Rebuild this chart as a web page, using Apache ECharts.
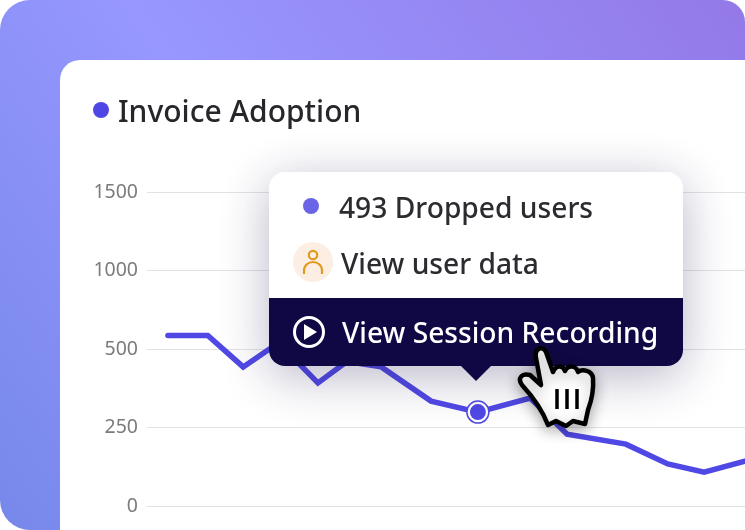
<!DOCTYPE html>
<html>
<head>
<meta charset="utf-8">
<style>html,body{margin:0;padding:0;background:#fff}#c{width:745px;height:530px}</style>
<script src="https://cdn.jsdelivr.net/npm/echarts@6/dist/echarts.min.js"></script>
</head>
<body>
<div id="c"></div>
<script>
var title = 'Invoice Adoption';
var tickLabels = ['0', '250', '500', '1000', '1500'];
var tickValues = [0, 250, 500, 1000, 1500];
var xValues = [4.2, 12.2, 19.3, 26.4, 34.3, 40.1, 47, 57, 66.4, 76.9, 84.3, 96.1, 104.5, 111.8, 120];
var yValues = [586, 586, 443, 540, 392, 460, 443, 334, 299, 344, 229, 197, 134, 108, 143];
var highlightIndex = 8;
var tooltipLines = ['493 Dropped users', 'View user data', 'View Session Recording'];

// The printed axis is not linear: ticks are evenly spaced but their values are not.
function toSlot(v) {
  for (var i = 0; i < tickValues.length - 1; i++) {
    if (v <= tickValues[i + 1]) {
      return i + (v - tickValues[i]) / (tickValues[i + 1] - tickValues[i]);
    }
  }
  return tickValues.length - 1;
}
var lineData = xValues.map(function (x, i) { return [x, toSlot(yValues[i])]; });
var hi = [lineData[highlightIndex]];
var FONT = '"Noto Sans", sans-serif';

echarts.graphic.registerShape('handShape', echarts.graphic.extendPath(
  'M536 358 C534 348 543 345 546 352 L553 372 C556 365 563 365 565 371 C568 365 576 365 578 372 C582 369 592 370 593 378 C594 392 591 402 588 410 L585 424 L573 421 L566 426 L556 421 L548 425 C543 412 534 398 522 385 C517 378 522 373 530 375 L541 385 Z', {}));
echarts.graphic.registerShape('personBody', echarts.graphic.extendPath(
  'M304 274 L304 271 C304 259 322 259 322 271 L322 274', {}));

var chart = echarts.init(document.getElementById('c'), null, {renderer: 'canvas'});
chart.setOption({
  animation: false,
  backgroundColor: 'transparent',
  grid: {left: 147, right: 0, top: 192, bottom: 24},
  xAxis: {type: 'value', min: 0, max: 120, show: false},
  yAxis: {
    type: 'value', min: 0, max: tickLabels.length - 1, interval: 1,
    axisLine: {show: false}, axisTick: {show: false},
    axisLabel: {
      margin: 9, fontFamily: FONT, fontSize: 19.5, color: '#7b7b7f', padding: [5, 0, 0, 0],
      formatter: function (v) { return tickLabels[v]; }
    },
    splitLine: {lineStyle: {color: '#e2e2e5', width: 1}}
  },
  series: [
    {
      type: 'line', data: lineData, showSymbol: false, symbol: 'none', z: 3,
      lineStyle: {color: '#5048e5', width: 5.5, cap: 'round', join: 'miter'}
    },
    {
      type: 'scatter', data: hi, symbol: 'circle', symbolSize: 22, z: 4,
      itemStyle: {color: '#fff', borderColor: '#5048e5', borderWidth: 1.5, opacity: 1}
    },
    {
      type: 'scatter', data: hi, symbol: 'circle', symbolSize: 16, z: 5,
      itemStyle: {color: '#5048e5', opacity: 1}
    }
  ],
  graphic: [
    {
      type: 'group', z: -10, silent: true,
      children: [
        {type: 'rect', z: -10, shape: {x: 0, y: 0, width: 745, height: 530, r: [30, 22, 0, 30]},
          style: {fill: new echarts.graphic.LinearGradient(0, 1, 1, 0, [
            {offset: 0, color: '#7688ea'},
            {offset: 0.45, color: '#9797ff'},
            {offset: 1, color: '#9479e8'}
          ])}},
        {type: 'rect', z: -9, shape: {x: 60, y: 60, width: 685, height: 470, r: [20, 0, 0, 0]},
          style: {fill: '#fff'}},
        {type: 'circle', z: -8, shape: {cx: 101, cy: 110, r: 8}, style: {fill: '#4f46e5'}},
        {type: 'text', z: -8, x: 118, y: 113, style: {
          text: title, font: '500 30px ' + FONT, fill: '#26262b', verticalAlign: 'middle'}}
      ]
    },
    {
      type: 'group', z: 20, silent: true,
      children: [
        {type: 'rect', z: 20, shape: {x: 269, y: 172, width: 414, height: 194, r: 16},
          style: {fill: '#fff', shadowBlur: 50, shadowColor: 'rgba(30,25,80,0.32)', shadowOffsetY: 10}},
        {type: 'polygon', z: 21, shape: {points: [[460, 365], [492, 365], [476, 381]]}, style: {fill: '#0f0845'}},
        {type: 'rect', z: 21, shape: {x: 269, y: 298, width: 414, height: 68, r: [0, 0, 16, 16]},
          style: {fill: '#0f0845'}},
        {type: 'circle', z: 22, shape: {cx: 311, cy: 206, r: 8}, style: {fill: '#6a64e6'}},
        {type: 'text', z: 22, x: 339, y: 210, style: {
          text: tooltipLines[0], font: '500 28.2px ' + FONT, fill: '#2b2b30', verticalAlign: 'middle'}},
        {type: 'circle', z: 22, shape: {cx: 313, cy: 262, r: 20}, style: {fill: '#fdeee3'}},
        {type: 'circle', z: 23, shape: {cx: 313, cy: 255, r: 4.2}, style: {fill: 'none', stroke: '#e09a20', lineWidth: 2.2}},
        {type: 'personBody', z: 23, style: {fill: 'none', stroke: '#e09a20', lineWidth: 2.2}},
        {type: 'text', z: 22, x: 341, y: 266, style: {
          text: tooltipLines[1], font: '500 28.2px ' + FONT, fill: '#2b2b30', verticalAlign: 'middle'}},
        {type: 'circle', z: 22, shape: {cx: 309, cy: 332, r: 14.5}, style: {fill: 'none', stroke: '#fff', lineWidth: 3}},
        {type: 'polygon', z: 22, shape: {points: [[304, 324], [304, 340], [317, 332]]}, style: {fill: '#fff'}},
        {type: 'text', z: 22, x: 342, y: 335, style: {
          text: tooltipLines[2], font: '500 28.2px ' + FONT, fill: '#fff', verticalAlign: 'middle'}},
        {type: 'handShape', z: 24,
          style: {fill: '#fff', stroke: '#000', lineWidth: 4.5, lineJoin: 'round', shadowBlur: 14, shadowColor: 'rgba(0,0,0,0.3)', shadowOffsetY: 4}},
        {type: 'line', z: 25, shape: {x1: 557, y1: 389, x2: 557, y2: 409}, style: {stroke: '#000', lineWidth: 3.5}},
        {type: 'line', z: 25, shape: {x1: 567, y1: 389, x2: 567, y2: 409}, style: {stroke: '#000', lineWidth: 3.5}},
        {type: 'line', z: 25, shape: {x1: 577, y1: 389, x2: 577, y2: 409}, style: {stroke: '#000', lineWidth: 3.5}}
      ]
    }
  ]
});
</script>
</body>
</html>
